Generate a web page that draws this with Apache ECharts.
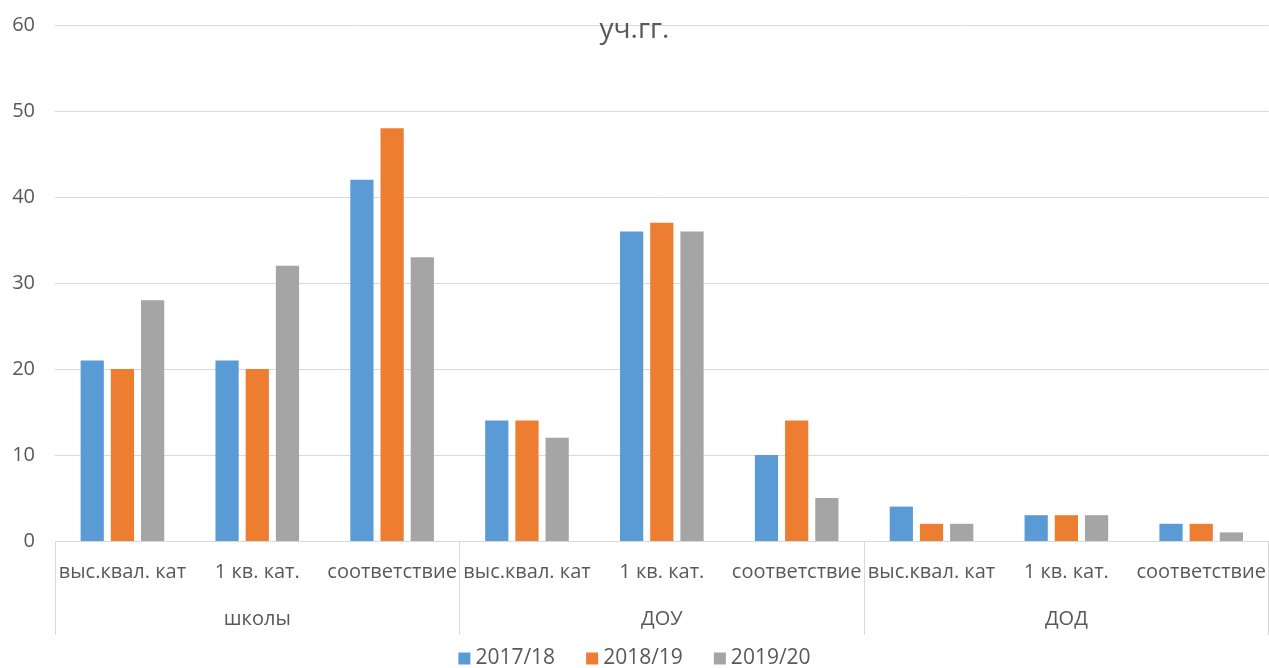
<!DOCTYPE html>
<html>
<head>
<meta charset="utf-8">
<script src="https://cdn.jsdelivr.net/npm/echarts@6/dist/echarts.min.js"></script>
<style>
  html, body { margin: 0; padding: 0; background: #fff; }
  #chart { width: 1269px; height: 668px; }
</style>
</head>
<body>
<div id="chart"></div>
<script>
var categories = ['выс.квал. кат', '1 кв. кат.', 'соответствие',
                  'выс.квал. кат', '1 кв. кат.', 'соответствие',
                  'выс.квал. кат', '1 кв. кат.', 'соответствие']
var groups = ['школы', 'ДОУ', 'ДОД']
var s2017 = [21, 21, 42, 14, 36, 10, 4, 3, 2]
var s2018 = [20, 20, 48, 14, 37, 14, 2, 3, 2]
var s2019 = [28, 32, 33, 12, 36, 5, 2, 3, 1]

var font = '"Open Sans", "Noto Sans", sans-serif'
var textColor = '#595959'

var chart = echarts.init(document.getElementById('chart'))

var option = {
  animation: false,
  title: {
    text: 'уч.гг.',
    left: 'center',
    top: 11,
    textStyle: { fontFamily: font, fontSize: 28, fontWeight: 'normal', color: textColor }
  },
  legend: {
    top: 643,
    left: 'center',
    icon: 'rect',
    itemWidth: 12,
    itemHeight: 12,
    itemGap: 31,
    textStyle: { fontFamily: font, fontSize: 21, color: textColor },
    data: ['2017/18', '2018/19', '2019/20']
  },
  grid: { left: 55, right: 0, top: 25, bottom: 127 },
  xAxis: [
    {
      type: 'category',
      data: categories,
      axisLine: { lineStyle: { color: '#d9d9d9' } },
      axisTick: { show: false },
      axisLabel: { interval: 0, margin: 21, fontFamily: font, fontSize: 20, color: textColor }
    },
    {
      type: 'category',
      data: groups,
      position: 'bottom',
      axisLine: { show: false },
      axisTick: { show: true, length: 94, interval: 0, lineStyle: { color: '#d9d9d9' } },
      axisLabel: { interval: 0, margin: 68, fontFamily: font, fontSize: 20, color: textColor }
    }
  ],
  yAxis: {
    type: 'value',
    min: 0,
    max: 60,
    interval: 10,
    axisLine: { show: false },
    axisTick: { show: false },
    splitLine: { lineStyle: { color: '#d9d9d9' } },
    axisLabel: { margin: 20, fontFamily: font, fontSize: 20, color: textColor }
  },
  series: [
    { name: '2017/18', type: 'bar', data: s2017, itemStyle: { color: '#5B9BD5' }, barGap: '30%', barCategoryGap: '38%' },
    { name: '2018/19', type: 'bar', data: s2018, itemStyle: { color: '#ED7D31' } },
    { name: '2019/20', type: 'bar', data: s2019, itemStyle: { color: '#A5A5A5' } }
  ]
}

chart.setOption(option)
</script>
</body>
</html>
